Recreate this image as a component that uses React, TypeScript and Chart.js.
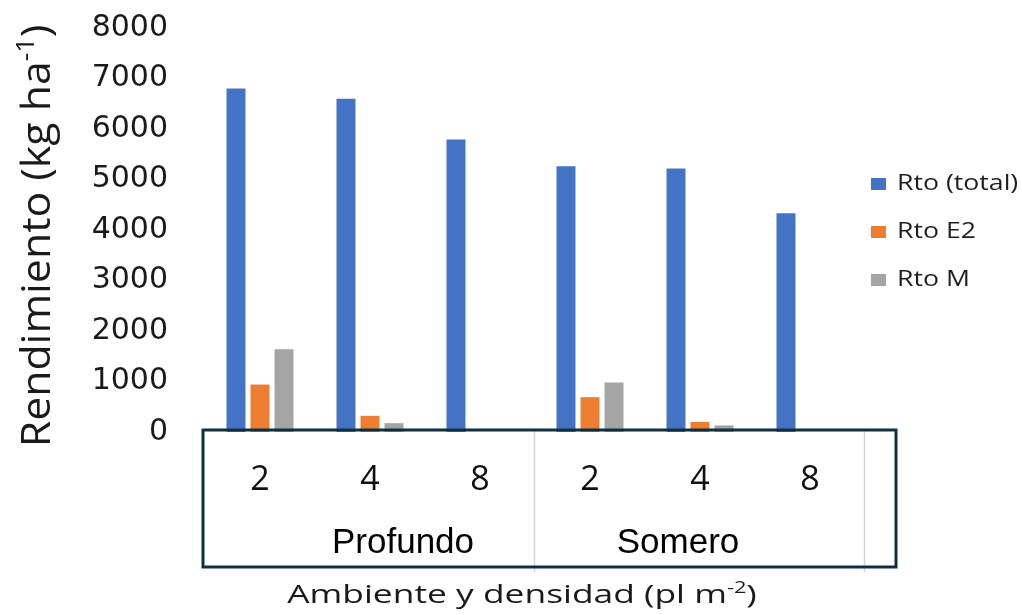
import { useEffect, useRef } from "react";
import { Chart, registerables } from "chart.js";

Chart.register(...registerables);

// Planting density (pl m-2) within each environment
const categories = ["2", "4", "8", "2", "4", "8"];
const groups = ["Profundo", "Somero"];
const seriesNames = ["Rto (total)", "Rto E2", "Rto M"];
const seriesColors = ["#4472c4", "#ed7d31", "#a5a5a5"];

// Yield (kg ha-1)
const rtoTotal = [6800, 6600, 5790, 5260, 5220, 4330];
const rtoE2 = [940, 320, 0, 690, 200, 0];
const rtoM = [1640, 175, 0, 980, 130, 0];

const yMin = 0;
const yMax = 8000;
const yStep = 1000;

type Part = { text: string; sup?: boolean };

function drawRich(
  ctx: CanvasRenderingContext2D,
  parts: Part[],
  size: number,
  family: string,
  cx: number,
  baseline: number,
  stretch: number
) {
  const base = `${size}px "${family}"`;
  const small = `${Math.round(size * 0.62)}px "${family}"`;
  let total = 0;
  const widths = parts.map((p) => {
    ctx.font = p.sup ? small : base;
    const w = ctx.measureText(p.text).width;
    total += w;
    return w;
  });
  ctx.save();
  ctx.translate(cx, baseline);
  ctx.scale(stretch, 1);
  ctx.textAlign = "left";
  ctx.textBaseline = "alphabetic";
  let x = -total / 2;
  parts.forEach((p, i) => {
    ctx.font = p.sup ? small : base;
    ctx.fillText(p.text, x, p.sup ? -size * 0.4 : 0);
    x += widths[i];
  });
  ctx.restore();
}

const overlayPlugin = {
  id: "overlay",
  afterDraw(chart: Chart) {
    const { ctx, chartArea } = chart;
    const x = chart.scales.x;
    ctx.save();

    // Group separators
    ctx.strokeStyle = "#d4d4d4";
    ctx.lineWidth = 1.5;
    [categories.length / 2 - 0.5, categories.length - 0.5].forEach((v) => {
      const px = Math.round(x.getPixelForValue(v)) - 0.5;
      ctx.beginPath();
      ctx.moveTo(px, chartArea.bottom - 1);
      ctx.lineTo(px, 572);
      ctx.stroke();
    });

    // Frame around the category axis
    ctx.strokeStyle = "#10303f";
    ctx.lineWidth = 3;
    ctx.strokeRect(chartArea.left - 2, chartArea.bottom - 2, 896 - chartArea.left + 2, 567 - chartArea.bottom + 2);

    // Environment labels
    ctx.fillStyle = "#000";
    ctx.font = '35px "Liberation Sans"';
    ctx.textAlign = "center";
    ctx.textBaseline = "alphabetic";
    const groupX = [403, 678];
    groups.forEach((g, i) => ctx.fillText(g, groupX[i], 553));

    // Axis titles
    ctx.fillStyle = "#1a1a1a";
    drawRich(
      ctx,
      [{ text: "Ambiente y densidad (pl m" }, { text: "-2", sup: true }, { text: ")" }],
      26,
      "Open Sans",
      522,
      603,
      1.36
    );
    ctx.save();
    ctx.translate(50, 236);
    ctx.rotate(-Math.PI / 2);
    drawRich(
      ctx,
      [{ text: "Rendimiento (kg ha" }, { text: "-1", sup: true }, { text: ")" }],
      40,
      "Open Sans",
      0,
      0,
      1.07
    );
    ctx.restore();

    // Legend
    chart.data.datasets.forEach((ds, i) => {
      const top = 178 + i * 48;
      ctx.fillStyle = ds.backgroundColor as string;
      ctx.fillRect(871, top, 15, 12);
      ctx.fillStyle = "#1f1f1f";
      ctx.save();
      ctx.translate(897, top + 12);
      ctx.scale(1.24, 1);
      ctx.font = '21.5px "Open Sans"';
      ctx.textAlign = "left";
      ctx.textBaseline = "alphabetic";
      ctx.fillText(ds.label as string, 0, 0);
      ctx.restore();
    });

    ctx.restore();
  },
};

export default function App() {
  const canvasRef = useRef<HTMLCanvasElement | null>(null);

  useEffect(() => {
    if (!canvasRef.current) return;
    const series = [rtoTotal, rtoE2, rtoM];
    const chart = new Chart(canvasRef.current, {
      type: "bar",
      data: {
        labels: categories,
        datasets: series.map((data, i) => ({
          label: seriesNames[i],
          data,
          backgroundColor: seriesColors[i],
          borderWidth: 0,
          categoryPercentage: 0.655,
          barPercentage: 0.79,
        })),
      },
      options: {
        animation: false,
        responsive: true,
        maintainAspectRatio: false,
        layout: { padding: { left: 0, right: 157, top: 28, bottom: 0 } },
        plugins: {
          legend: { display: false },
          tooltip: { enabled: false },
        },
        scales: {
          x: {
            grid: { display: false, drawTicks: false },
            border: { display: false },
            ticks: {
              font: { family: "Open Sans", size: 34 },
              color: "#111",
              padding: 28,
              maxRotation: 0,
            },
            afterFit: (scale: any) => {
              scale.height = 183;
            },
          },
          y: {
            min: yMin,
            max: yMax,
            grid: { display: false, drawTicks: false },
            border: { display: false },
            ticks: {
              stepSize: yStep,
              font: { family: "DejaVu Sans", size: 30 },
              color: "#1a1a1a",
              padding: 37,
              callback: (v: any) => String(v),
            },
            afterFit: (scale: any) => {
              scale.width = 205;
              scale.paddingTop = 0;
              scale.paddingBottom = 0;
            },
          },
        },
      },
      plugins: [overlayPlugin],
    });
    return () => chart.destroy();
  }, []);

  return (
    <div
      style={{
        position: "fixed",
        left: 0,
        top: 0,
        width: 1022,
        height: 615,
        background: "#fff",
      }}
    >
      <canvas ref={canvasRef} />
    </div>
  );
}
